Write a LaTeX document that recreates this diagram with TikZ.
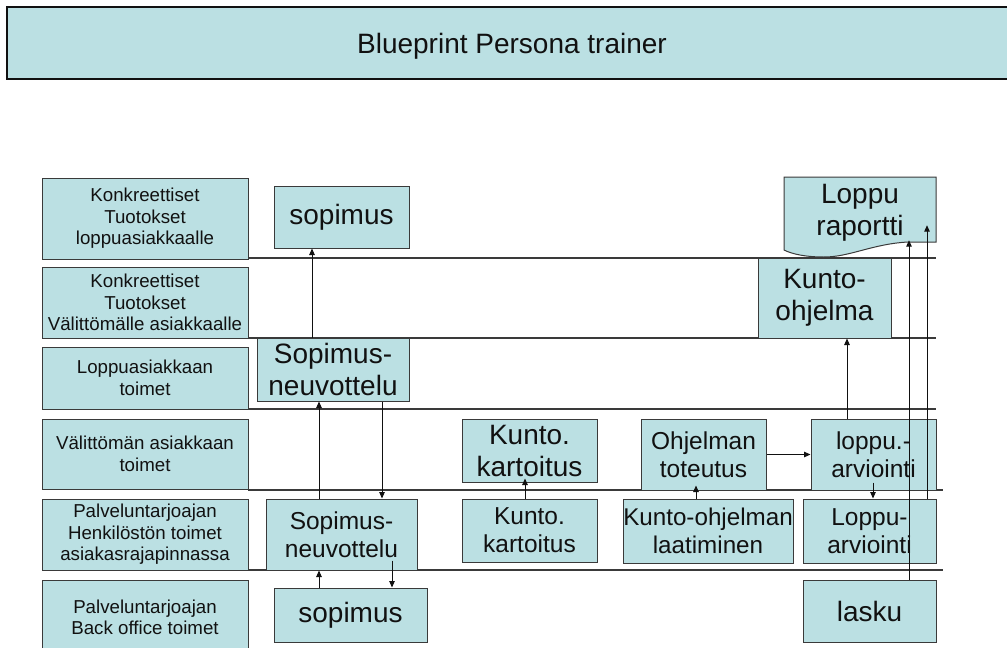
\documentclass[tikz,border=0pt]{standalone}
\usepackage{fontspec}
\setmainfont{Liberation Sans}
\usetikzlibrary{arrows.meta}
\definecolor{boxfill}{HTML}{BBE0E3}
\definecolor{edge}{HTML}{3A3A3A}
\definecolor{ink}{HTML}{111111}

\begin{document}
\begin{tikzpicture}[x=1pt,y=-1pt,
  cell/.style={draw=edge, line width=1pt, fill=boxfill, inner sep=0pt, align=center, text=ink},
  lane/.style={cell, font=\fontsize{18.7}{21.5}\selectfont, minimum width=206pt},
  big/.style={cell, font=\fontsize{28}{32}\selectfont},
  mid/.style={cell, font=\fontsize{24.5}{28}\selectfont},
  sep/.style={draw=edge, line width=1.1pt},
  flow/.style={draw=ink, line width=1pt, -{Triangle[length=6.5pt,width=5.5pt]}}
]
\useasboundingbox (0,0) rectangle (1007,648);

% title banner
\node[cell, draw=ink, line width=1.8pt, minimum width=1010pt, minimum height=72pt,
      font=\fontsize{28}{32}\selectfont, text depth=0pt]
  (title) at (512,43) {Blueprint Persona trainer};

% swimlane separators
\foreach \yy in {258,338,409} \draw[sep] (248,\yy) -- (936,\yy);
\foreach \yy in {490,570} \draw[sep] (248,\yy) -- (943,\yy);

% lane headings
\node[lane, minimum height=81pt] (l1) at (145,218.5) {Konkreettiset\\Tuotokset\\loppuasiakkaalle};
\node[lane, minimum height=71pt] (l2) at (145,302.5) {Konkreettiset\\Tuotokset\\Välittömälle asiakkaalle};
\node[lane, minimum height=62pt] (l3) at (145,378) {Loppuasiakkaan\\toimet};
\node[lane, minimum height=70pt] (l4) at (145,454) {Välittömän asiakkaan\\toimet};
\node[lane, minimum height=71pt] (l5) at (145,534.5) {Palveluntarjoajan\\Henkilöstön toimet\\asiakasrajapinnassa};
\node[lane, minimum height=75pt] (l6) at (145,617.5) {Palveluntarjoajan\\Back office toimet};

% end report (document shape)
\draw[draw=edge, line width=1pt, fill=boxfill]
  (784,177) -- (936,177) -- (936,242) -- (908,242)
  .. controls (872,244) and (850,257) .. (824,257)
  .. controls (805,257) and (792,254) .. (784,250) -- cycle;
\node[inner sep=0pt, minimum width=152pt, minimum height=58pt, align=center,
      font=\fontsize{28}{32}\selectfont, text=ink] (rap) at (860,213) {Loppu\\raportti};

% process steps
\node[big, minimum width=135pt, minimum height=62pt] (sopA) at (341.5,217) {sopimus};
\node[big, minimum width=152pt, minimum height=63pt] (neg3) at (333,369.5) {Sopimus-\\neuvottelu};
\node[mid, minimum width=151pt, minimum height=71pt] (neg5) at (341.5,534.5) {Sopimus-\\neuvottelu};
\node[big, minimum width=153pt, minimum height=54pt] (sopB) at (350.5,615) {sopimus};
\node[big, minimum width=135pt, minimum height=63pt] (kk4) at (529.5,450.5) {Kunto.\\kartoitus};
\node[mid, minimum width=135pt, minimum height=63pt] (kk5) at (529.5,530.5) {Kunto.\\kartoitus};
\node[mid, minimum width=125pt, minimum height=71pt] (ot4) at (703.5,454.5) {Ohjelman\\toteutus};
\node[mid, minimum width=170pt, minimum height=64pt, font=\fontsize{24.2}{28}\selectfont] (kol5) at (708,531) {Kunto-ohjelman\\laatiminen};
\node[mid, minimum width=125pt, minimum height=71pt] (la4) at (873.5,454.5) {loppu.-\\arviointi};
\node[mid, minimum width=133pt, minimum height=64pt] (La5) at (869.5,531) {Loppu-\\arviointi};
\node[big, minimum width=133pt, minimum height=62pt] (lasku) at (869.5,611) {lasku};
\node[big, minimum width=133pt, minimum height=80pt] (ko) at (824.5,298) {Kunto-\\ohjelma};

% flows between steps
\coordinate (c1) at ([xshift=-21pt]neg3.north);
\draw[flow] (c1) -- (c1 |- sopA.south);
\coordinate (c2) at ([xshift=-22.5pt]neg5.north);
\draw[flow] (c2) -- (c2 |- neg3.south);
\coordinate (c3) at ([xshift=49pt]neg3.south);
\draw[flow] (c3) -- (c3 |- neg5.north);
\coordinate (c4) at ([xshift=-31.5pt]sopB.north);
\draw[flow] (c4) -- (c4 |- neg5.south);
\coordinate (c5) at ([xshift=50.5pt,yshift=10pt]neg5.south);
\draw[flow] (c5) -- (c5 |- sopB.north);
\coordinate (c6) at ([xshift=-4.5pt]kk5.north);
\draw[flow, shorten >=-4pt] (c6) -- (c6 |- kk4.south);
\coordinate (c7) at ([xshift=-12pt]kol5.north);
\draw[flow, shorten >=-5pt] (c7) -- (c7 |- ot4.south);
\draw[flow] (ot4.east) -- (la4.west);
\coordinate (c9) at ([xshift=-0.5pt,yshift=8pt]la4.south);
\draw[flow] (c9) -- (c9 |- La5.north);
\coordinate (c10) at ([xshift=-26.5pt]la4.north);
\draw[flow] (c10) -- (c10 |- ko.south);
\coordinate (c11) at ([xshift=39.5pt]lasku.north);
\draw[flow, shorten >=-2pt] (c11) -- (c11 |- rap.south);
\coordinate (c12) at ([xshift=57.5pt]La5.north);
\draw[flow, shorten >=-17pt] (c12) -- (c12 |- rap.south);
\end{tikzpicture}
\end{document}
